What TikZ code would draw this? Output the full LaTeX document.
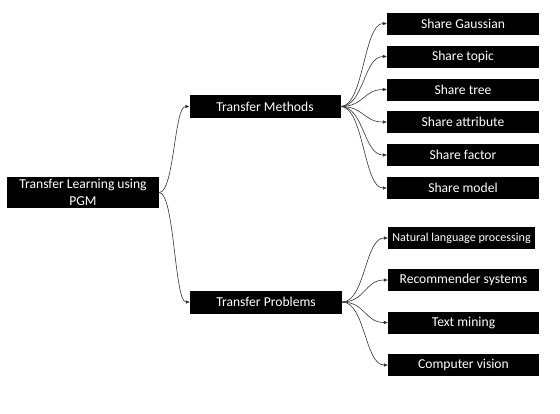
\documentclass[tikz,border=0pt]{standalone}
\usepackage{fontspec}
\setmainfont{Carlito}
\usetikzlibrary{arrows.meta,calc}
\begin{document}
\begin{tikzpicture}[x=1pt,y=1pt,
  box/.style={fill=black,text=white,inner sep=0pt,align=center,font=\fontsize{13.6}{16.5}\selectfont},
  leaf/.style={box,minimum width=152pt,minimum height=22pt},
  mid/.style={box,minimum width=151pt,minimum height=23pt},
  conn/.style={draw=black!80,line width=0.6pt,-{Triangle[length=4pt,width=3.2pt]},
    to path={let \p1=(\tikztostart), \p2=(\tikztotarget) in
      .. controls ({(\x1+\x2)/2},\y1) and ({(\x1+\x2)/2},\y2) .. (\tikztotarget) \tikztonodes}}
]
\useasboundingbox (0,0) rectangle (560,-413);
\node[box,minimum width=152pt,minimum height=31pt] (root) at (83,-192.5) {Transfer Learning using\\PGM};
\node[mid] (tm) at (265,-106.5) {Transfer Methods};
\node[mid,minimum width=152pt] (tp) at (266,-302) {Transfer Problems};
\node[leaf] (g) at (463,-23.5) {Share Gaussian};
\node[leaf] (t) at (463,-56.5) {Share topic};
\node[leaf] (tr) at (463,-89.5) {Share tree};
\node[leaf] (a) at (463,-122) {Share attribute};
\node[leaf] (f) at (463,-155) {Share factor};
\node[leaf] (m) at (463,-188) {Share model};
\node[leaf,minimum width=147pt,font=\fontsize{12.1}{14}\selectfont] (nlp) at (461.5,-238) {Natural language processing};
\node[leaf,minimum width=151pt] (rs) at (463.5,-280) {Recommender systems};
\node[leaf,minimum width=151pt] (tx) at (463.5,-322.5) {Text mining};
\node[leaf,minimum width=151pt] (cv) at (463.5,-365) {Computer vision};
\draw[conn] (root.east) to (tm.west);
\draw[conn] (root.east) to (tp.west);
\foreach \c in {g,t,tr,a,f,m} \draw[conn] (tm.east) to (\c.west);
\foreach \c in {nlp,rs,tx,cv} \draw[conn] (tp.east) to (\c.west);
\end{tikzpicture}
\end{document}
